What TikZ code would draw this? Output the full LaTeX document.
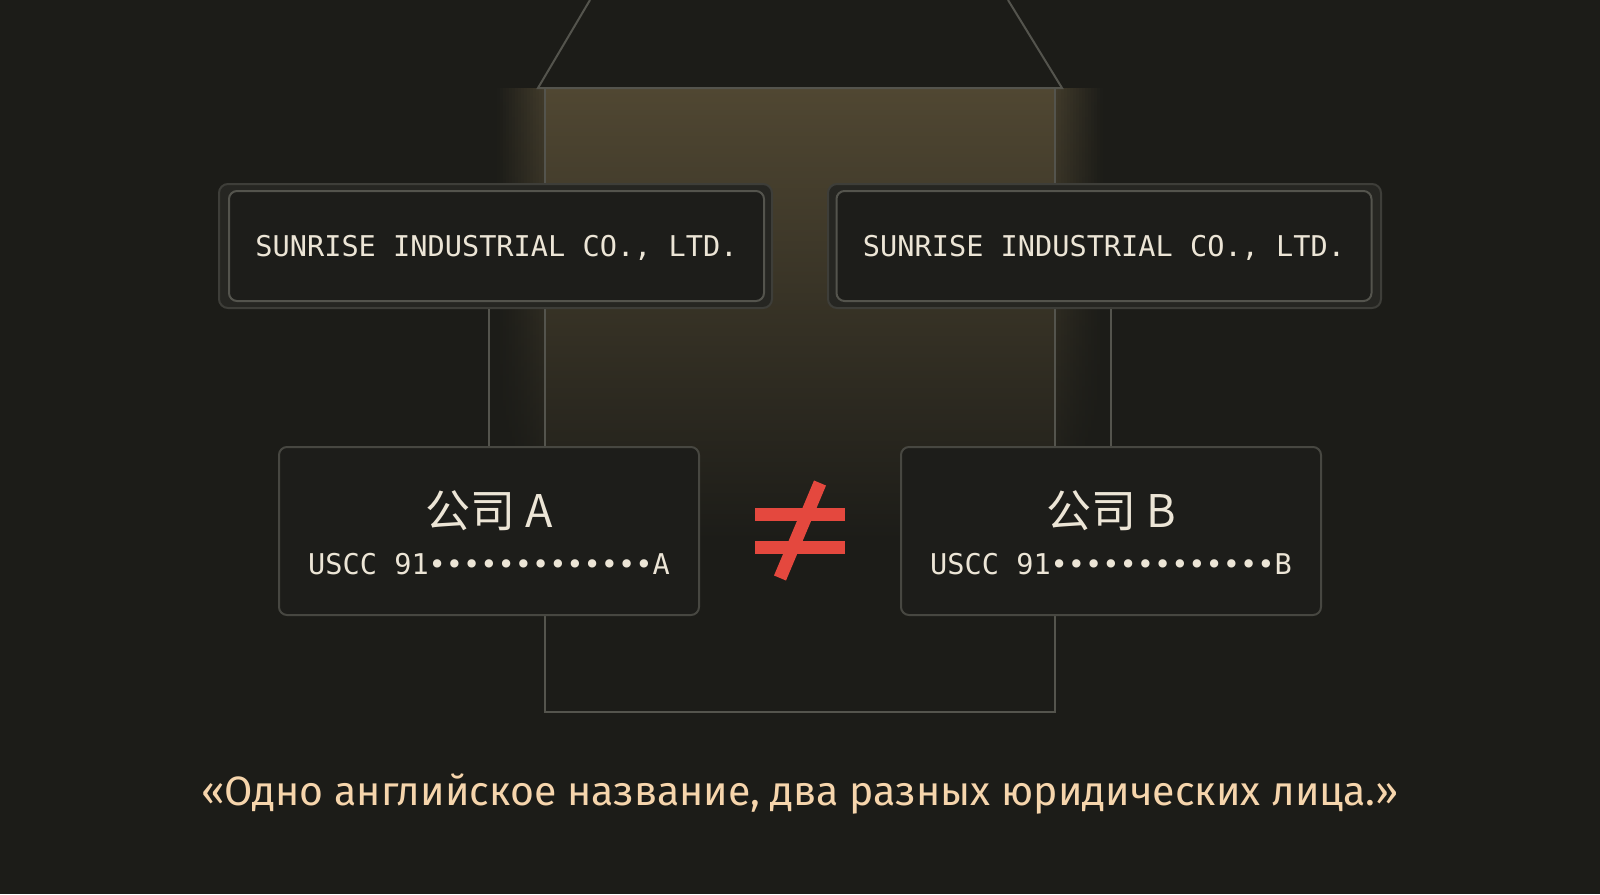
\documentclass[tikz,border=0pt]{standalone}
\usepackage{fontspec}
\setmainfont{Fira Sans}
\newfontfamily\monofont{DejaVu Sans Mono}
\newfontfamily\cjkfont{Noto Sans CJK SC}
\usetikzlibrary{calc, positioning}
\definecolor{mybg}{RGB}{28,28,24}
\definecolor{myglow}{RGB}{80,71,50}
\definecolor{myline}{RGB}{84,84,77}
\definecolor{myframe}{RGB}{62,62,57}
\definecolor{myfill}{RGB}{29,29,26}
\definecolor{mycream}{RGB}{236,229,214}
\definecolor{mypeach}{RGB}{246,213,172}
\definecolor{myred}{RGB}{228,72,62}
\tikzset{
  outerframe/.style = {rectangle, rounded corners = 9pt, minimum width = 553pt, minimum height = 124pt,
                       fill = myframe!30!mybg, draw = myframe, line width = 2pt},
  namebox/.style = {rectangle, rounded corners = 8pt, minimum width = 535pt, minimum height = 110pt,
                    fill = myfill, draw = myline, line width = 2pt, text = mycream, text depth = 0pt,
                    font = \monofont\fontsize{28.6}{30}\selectfont},
  idbox/.style = {rectangle, rounded corners = 8pt, minimum width = 420pt, minimum height = 168pt,
                  fill = myfill, draw = myframe!60!myline, line width = 2pt},
  cntext/.style = {text = mycream, inner sep = 0pt, font = \cjkfont\fontsize{45}{47}\selectfont},
  idtext/.style = {text = mycream, inner sep = 0pt, font = \monofont\fontsize{28.6}{30}\selectfont},
  link/.style = {draw = myline, line width = 2pt},
  neqbar/.style = {draw = myred, line width = 13pt}
}

\begin{document}
\begin{tikzpicture}[x = 1pt, y = -1pt]
  \useasboundingbox (0,0) rectangle (1600,894);
  \fill [mybg] (0,0) rectangle (1600,894);

  % light under the shade
  \foreach \d [evaluate = \d as \p using int(74-1.5*\d)] in {48,45,...,3}
    \fill [top color = myglow!\p!mybg, bottom color = mybg] (545-\d,88) rectangle (1055+\d,520-2*\d);
  \fill [top color = myglow, middle color = myglow!50!mybg, bottom color = mybg] (545,88) rectangle (1055,540);

  % shade and column
  \draw [link] (590,0) -- (538,88) -- (1062,88) -- (1008,0);
  \draw [link] (545,88) -- (545,712) -- (1055,712) -- (1055,88);

  % name plates
  \node [outerframe] (plateL) at (495.5,246) {};
  \node [namebox] (nameL) at (496.5,246) {SUNRISE INDUSTRIAL CO., LTD.};
  \node [outerframe] (plateR) at (1104.5,246) {};
  \node [namebox] (nameR) at (1104,246) {SUNRISE INDUSTRIAL CO., LTD.};

  % two legal entities
  \node [idbox] (boxA) at (489,531) {};
  \node [idbox] (boxB) at (1111,531) {};
  \node [cntext] (cnA) at ([yshift = 20pt]boxA.center) {公司 A};
  \node [idtext] (usccA) at ([yshift = -33pt]boxA.center) {USCC 91•••••••••••••A};
  \node [cntext] (cnB) at ([yshift = 20pt]boxB.center) {公司 B};
  \node [idtext] (usccB) at ([yshift = -33pt]boxB.center) {USCC 91•••••••••••••B};

  \draw [link] (boxA.north) -- (boxA.north |- plateL.south);
  \draw [link] (boxB.north) -- (boxB.north |- plateR.south);

  % not equal
  \coordinate (neq) at (800,531);
  \draw [neqbar] ($(neq)+(-45,-17)$) -- ($(neq)+(45,-17)$);
  \draw [neqbar] ($(neq)+(-45,16)$) -- ($(neq)+(45,16)$);
  \draw [neqbar] ($(neq)+(20,-48)$) -- ($(neq)+(-20,47)$);

  \node [text = mypeach, font = \fontsize{41}{43}\selectfont] (quote) at (800,794)
        {«Одно английское название, два разных юридических лица.»};
\end{tikzpicture}
\end{document}
